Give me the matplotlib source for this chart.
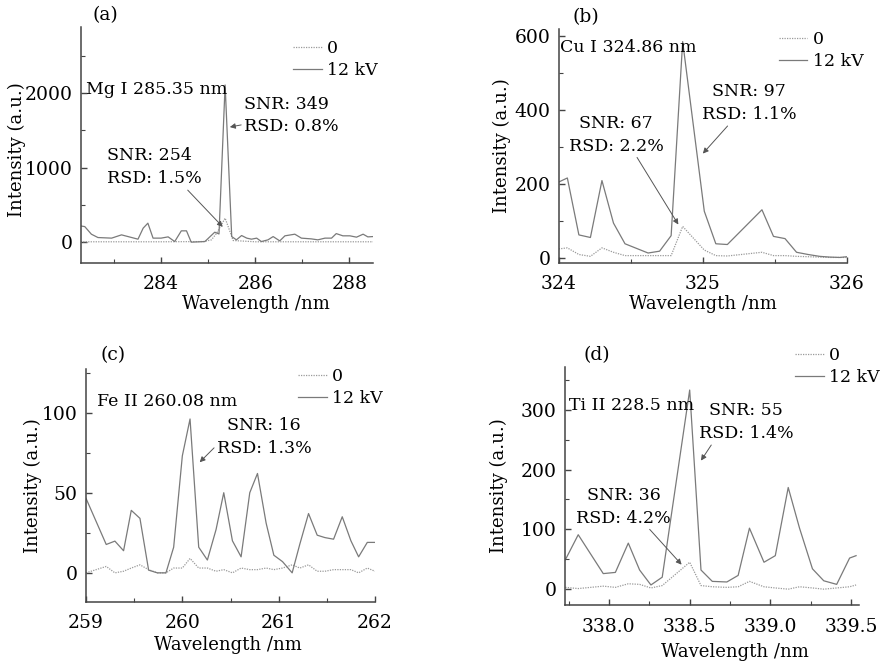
import matplotlib
matplotlib.use("Agg")
import matplotlib.pyplot as plt
from matplotlib.ticker import MultipleLocator, FormatStrFormatter

plt.rcParams['font.family'] = ['DejaVu Serif']
plt.rcParams['font.size'] = 12

# ---- data ----
# (a) Mg I 285.35 nm
mg_wl_12 = [282.24, 282.38, 282.52, 282.66, 282.95, 283.16, 283.51, 283.62, 283.72, 283.83,
            284.0, 284.15, 284.29, 284.43, 284.54, 284.64, 284.93, 285.14, 285.23, 285.36,
            285.5, 285.6, 285.71, 285.82, 285.92, 286.03, 286.13, 286.27, 286.38, 286.52,
            286.63, 286.84, 286.98, 287.19, 287.33, 287.48, 287.62, 287.72, 287.86, 288.01,
            288.15, 288.29, 288.39, 288.5]
mg_int_12 = [223, 209, 107, 62, 54, 98, 40, 188, 255, 54,
             54, 71, 8, 152, 152, 0, 8, 134, 110, 2111,
             75, 31, 89, 54, 40, 54, 8, 31, 75, 17,
             85, 107, 54, 44, 31, 54, 54, 115, 85, 85,
             67, 107, 71, 75]
mg_wl_0 = [282.24, 283.0, 284.0, 284.9, 285.07, 285.18, 285.36, 285.45, 285.53, 286.0, 287.0, 288.5]
mg_int_0 = [5, 5, 5, 8, 31, 120, 322, 165, 22, 5, 5, 5]

# (b) Cu I 324.86 nm
cu_wl = [324.0, 324.06, 324.14, 324.22, 324.3, 324.38, 324.46, 324.62, 324.7, 324.78,
         324.86, 325.01, 325.09, 325.17, 325.41, 325.49, 325.57, 325.65, 325.73, 325.81,
         325.88, 325.95, 326.0]
cu_int_12 = [205, 216, 62, 55, 209, 94, 38, 13, 18, 60,
             585, 126, 38, 36, 130, 58, 52, 15, 9, 4,
             2, 1, 3]
cu_int_0 = [24, 27, 9, 4, 27, 15, 6, 6, 6, 6,
            85, 21, 6, 5, 15, 6, 6, 4, 3, 2,
            1, 1, 1]

# (c) Fe II 260.08 nm
fe_wl = [259.0, 259.21, 259.3, 259.39, 259.47, 259.56, 259.65, 259.74, 259.83, 259.91,
         260.0, 260.08, 260.17, 260.26, 260.35, 260.43, 260.52, 260.61, 260.7, 260.78,
         260.87, 260.95, 261.04, 261.14, 261.22, 261.31, 261.4, 261.48, 261.57, 261.66,
         261.75, 261.83, 261.92, 262.0]
fe_int_12 = [46.5, 17.7, 19.8, 13.8, 39, 34, 1.7, 0, 0, 16,
             73, 96, 16, 8, 27, 50, 20, 10, 50, 62,
             31, 11, 7, 0, 18, 37, 23.5, 22, 21, 35,
             20, 10, 19, 19]
fe_int_0 = [0, 4, 0, 1, 3, 5, 2, 0, 0, 3,
            3, 9, 3, 3, 1, 2, 0, 3, 2, 2,
            3, 2, 3, 5, 3, 5, 1, 1, 2, 2,
            2, 0, 3, 1]

# (d) Ti II 228.5 nm
ti_wl = [337.73, 337.81, 337.965, 338.04, 338.12, 338.19, 338.26, 338.33, 338.5, 338.57,
         338.64, 338.73, 338.8, 338.87, 338.96, 339.03, 339.11, 339.18, 339.26, 339.33,
         339.41, 339.49, 339.53]
ti_int_12 = [49, 91, 26, 28, 77, 32, 7, 20, 333, 32,
             13, 12, 23, 102, 45, 56, 170, 102, 34, 14,
             8, 52, 56]
ti_int_0 = [3, 1, 5, 3, 9, 8, 2, 6, 45, 6,
            4, 3, 4, 13, 4, 2, 0, 4, 2, 0,
            2, 4, 7]

legend_labels = ['0', '12 kV']

W, H = 884, 663
fig = plt.figure(figsize=(W / 100, H / 100), dpi=100)


def make_axes(left, right, top, bottom):
    # pixel box -> figure fraction
    return fig.add_axes([left / W, 1 - bottom / H, (right - left) / W, (bottom - top) / H])


def style_axes(ax, xmaj, xmin, ymaj, ymin):
    for s in ['top', 'right']:
        ax.spines[s].set_visible(False)
    for s in ['left', 'bottom']:
        ax.spines[s].set_color('#444444')
        ax.spines[s].set_linewidth(1.1)
    ax.xaxis.set_major_locator(MultipleLocator(xmaj))
    ax.xaxis.set_minor_locator(MultipleLocator(xmin))
    ax.yaxis.set_major_locator(MultipleLocator(ymaj))
    ax.yaxis.set_minor_locator(MultipleLocator(ymin))
    ax.tick_params(which='both', direction='in', color='#444444', labelsize=13.5)
    ax.tick_params(which='major', length=4, width=1)
    ax.tick_params(which='minor', length=3, width=0.8)
    ax.tick_params(axis='x', pad=9)
    ax.tick_params(axis='y', pad=6)
    ax.set_xlabel('Wavelength /nm', fontsize=13)
    ax.set_ylabel('Intensity (a.u.)', fontsize=13)


def plot_pair(ax, wl0, i0, wl12, i12):
    ax.plot(wl0, i0, color='#9a9a9a', lw=0.9, linestyle=(0, (1, 1)), label=legend_labels[0])
    ax.plot(wl12, i12, color='#7a7a7a', lw=0.9, label=legend_labels[1])


def add_legend(ax, x, y):
    ax.legend(loc='upper left', bbox_to_anchor=(x / W, 1 - y / H), bbox_transform=fig.transFigure,
              frameon=False, fontsize=12.5, handlelength=1.65, handletextpad=0.3,
              labelspacing=0.3, borderpad=0, borderaxespad=0)


arrow_line = dict(arrowstyle='-|>', color='#555555', lw=0.7, mutation_scale=8,
                  shrinkA=0, shrinkB=0)
note = dict(fontsize=12.5, linespacing=1.45)

# ---- (a) ----
ax = make_axes(81, 373, 27, 263)
plot_pair(ax, mg_wl_0, mg_int_0, mg_wl_12, mg_int_12)
ax.set_xlim(282.3, 288.5)
ax.set_ylim(-280, 2890)
style_axes(ax, 2, 1, 1000, 500)
ax.xaxis.set_label_coords(0.598, -0.136)
ax.yaxis.set_label_coords(-0.188, 0.48)
ax.text(282.41, 2044, 'Mg I 285.35 nm', ha='left', va='center', fontsize=12.5)
ax.annotate('SNR: 349\nRSD: 0.8%', xy=(285.46, 1546), xytext=(285.76, 1702),
            ha='left', va='center', arrowprops=arrow_line, **note)
ax.annotate('SNR: 254\nRSD: 1.5%', xy=(285.31, 205), xytext=(282.86, 1004),
            ha='left', va='center', arrowprops=dict(arrow_line, relpos=(0.82, 0)), **note)
add_legend(ax, 293, 40)
fig.text(93 / W, 1 - 15 / H, '(a)', ha='left', va='center', fontsize=13.5)

# ---- (b) ----
ax = make_axes(558.7, 847, 29, 263)
plot_pair(ax, cu_wl, cu_int_0, cu_wl, cu_int_12)
ax.set_xlim(324, 326)
ax.set_ylim(-14, 619)
style_axes(ax, 1, 0.5, 200, 100)
ax.xaxis.set_label_coords(0.5, -0.137)
ax.yaxis.set_label_coords(-0.165, 0.5)
ax.text(324.01, 568, 'Cu I 324.86 nm', ha='left', va='center', fontsize=12.5)
ax.annotate('SNR: 67\nRSD: 2.2%', xy=(324.83, 90), xytext=(324.40, 333),
            ha='center', va='center', arrowprops=dict(arrow_line, relpos=(0.7, 0)), **note)
ax.annotate('SNR: 97\nRSD: 1.1%', xy=(325.0, 282), xytext=(325.32, 418),
            ha='center', va='center', arrowprops=dict(arrow_line, relpos=(0.3, 0)), **note)
add_legend(ax, 778.7, 31)
fig.text(572 / W, 1 - 17 / H, '(b)', ha='left', va='center', fontsize=13.5)

# ---- (c) ----
ax = make_axes(86, 375, 369.3, 601.7)
plot_pair(ax, fe_wl, fe_int_0, fe_wl, fe_int_12)
ax.set_xlim(259, 262)
ax.set_ylim(-18, 127)
style_axes(ax, 1, 0.5, 50, 25)
ax.xaxis.set_label_coords(0.49, -0.148)
ax.yaxis.set_label_coords(-0.152, 0.5)
ax.text(259.11, 107, 'Fe II 260.08 nm', ha='left', va='center', fontsize=12.5)
ax.annotate('SNR: 16\nRSD: 1.3%', xy=(260.18, 69), xytext=(260.85, 84.7),
            ha='center', va='center', arrowprops=dict(arrow_line, relpos=(0.0, 0.3)), **note)
add_legend(ax, 298, 368)
fig.text(100 / W, 1 - 355 / H, '(c)', ha='left', va='center', fontsize=13.5)

# ---- (d) ----
ax = make_axes(565.3, 859.3, 366.7, 605.3)
plot_pair(ax, ti_wl, ti_int_0, ti_wl, ti_int_12)
ax.set_xlim(337.73, 339.55)
ax.set_ylim(-27, 372)
style_axes(ax, 0.5, 0.25, 100, 50)
ax.xaxis.set_major_formatter(FormatStrFormatter('%.1f'))
ax.xaxis.set_label_coords(0.577, -0.158)
ax.yaxis.set_label_coords(-0.196, 0.5)
ax.text(337.75, 307, 'Ti II 228.5 nm', ha='left', va='center', fontsize=12.5)
ax.annotate('SNR: 55\nRSD: 1.4%', xy=(338.57, 215), xytext=(338.85, 279),
            ha='center', va='center', arrowprops=dict(arrow_line, relpos=(0.15, 0)), **note)
ax.annotate('SNR: 36\nRSD: 4.2%', xy=(338.45, 41), xytext=(338.09, 138),
            ha='center', va='center', arrowprops=dict(arrow_line, relpos=(0.75, 0)), **note)
add_legend(ax, 795, 347)
fig.text(583.7 / W, 1 - 355 / H, '(d)', ha='left', va='center', fontsize=13.5)

fig.savefig('out.png', dpi=100)
